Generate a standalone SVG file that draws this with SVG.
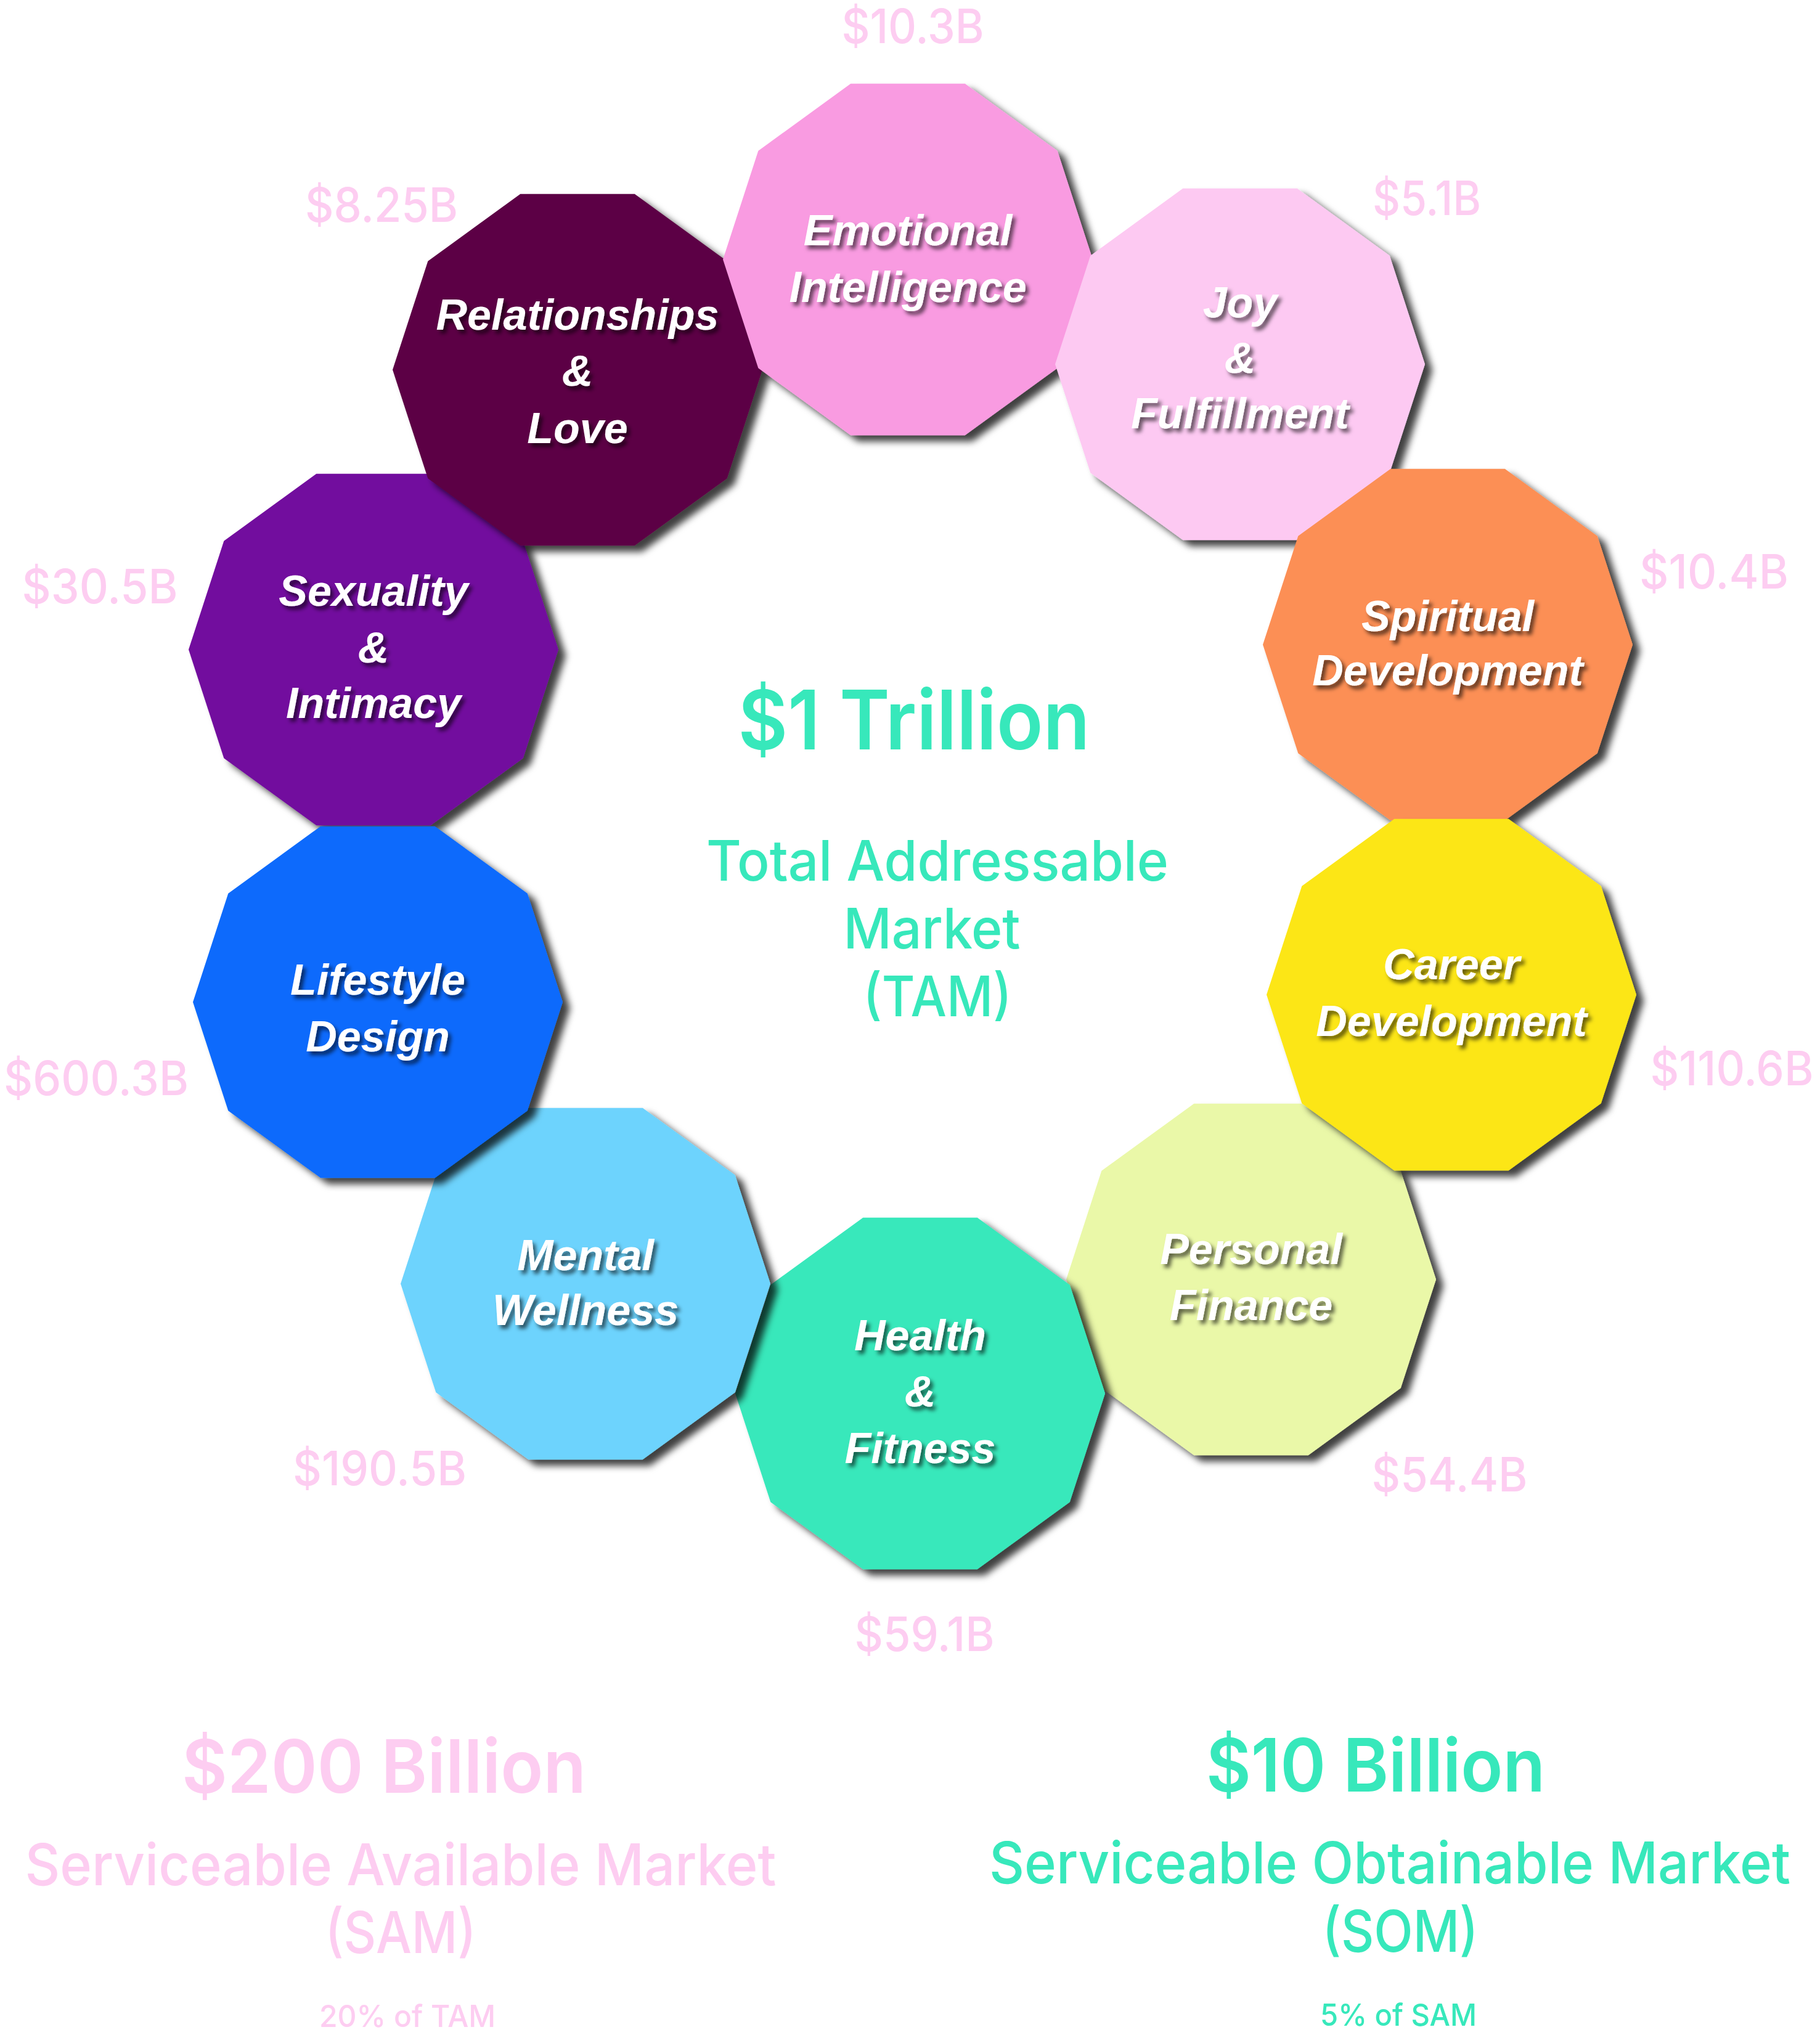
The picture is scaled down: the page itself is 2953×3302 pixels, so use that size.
<svg xmlns="http://www.w3.org/2000/svg" xmlns:xlink="http://www.w3.org/1999/xlink" width="2953" height="3302" viewBox="0 0 2953 3302">
<style>
.lbl{font-family:"Liberation Sans",Arial,sans-serif;font-weight:700;font-style:italic;font-size:70px;fill:#ffffff;text-anchor:middle;filter:url(#ts)}
.val{font-family:Inter,"Liberation Sans",sans-serif;font-weight:500;font-size:77px;fill:#FDCDF1;text-anchor:middle}
.big{font-family:Inter,"Liberation Sans",sans-serif;font-weight:600;text-anchor:middle}
.sub{font-family:Inter,"Liberation Sans",sans-serif;font-weight:500;text-anchor:middle}
.teal{fill:#37E8BB}
.pink{fill:#FDCDF1}
</style>
<defs>
<filter id="ds" x="-15%" y="-15%" width="135%" height="135%">
<feDropShadow dx="12" dy="10" stdDeviation="6" flood-color="#000000" flood-opacity="0.75"/>
</filter>
<filter id="ts" x="-10%" y="-20%" width="125%" height="150%">
<feDropShadow dx="5" dy="6" stdDeviation="3" flood-color="#000000" flood-opacity="0.6"/>
</filter>
<polygon id="dec" points="300,0 242.7,176.3 92.7,285.3 -92.7,285.3 -242.7,176.3 -300,0 -242.7,-176.3 -92.7,-285.3 92.7,-285.3 242.7,-176.3"/>
</defs>
<rect width="2953" height="3302" fill="#ffffff"/>

<g id="node-sexuality" transform="translate(606,1054)">
<use xlink:href="#dec" fill="#720B9E" filter="url(#ds)"/>
<text class="lbl"><tspan x="0" y="-71">Sexuality</tspan><tspan x="0" y="21">&amp;</tspan><tspan x="0" y="111">Intimacy</tspan></text>
</g>
<g id="node-relationships" transform="translate(937,600)">
<use xlink:href="#dec" fill="#5C0044" filter="url(#ds)"/>
<text class="lbl"><tspan x="0" y="-65">Relationships</tspan><tspan x="0" y="26">&amp;</tspan><tspan x="0" y="119">Love</tspan></text>
</g>
<g id="node-emotional" transform="translate(1473,421)">
<use xlink:href="#dec" fill="#F99BE1" filter="url(#ds)"/>
<text class="lbl"><tspan x="0" y="-23">Emotional</tspan><tspan x="0" y="69">Intelligence</tspan></text>
</g>
<g id="node-joy" transform="translate(2012,591)">
<use xlink:href="#dec" fill="#FDC9F2" filter="url(#ds)"/>
<text class="lbl"><tspan x="0" y="-76">Joy</tspan><tspan x="0" y="14">&amp;</tspan><tspan x="0" y="104">Fulfillment</tspan></text>
</g>
<g id="node-spiritual" transform="translate(2349,1046)">
<use xlink:href="#dec" fill="#FC8F55" filter="url(#ds)"/>
<text class="lbl"><tspan x="0" y="-22">Spiritual</tspan><tspan x="0" y="66">Development</tspan></text>
</g>
<g id="node-finance" transform="translate(2030,2076)">
<use xlink:href="#dec" fill="#EAF8A8" filter="url(#ds)"/>
<text class="lbl"><tspan x="0" y="-25">Personal</tspan><tspan x="0" y="66">Finance</tspan></text>
</g>
<g id="node-career" transform="translate(2355,1614)">
<use xlink:href="#dec" fill="#FCE618" filter="url(#ds)"/>
<text class="lbl"><tspan x="0" y="-25">Career</tspan><tspan x="0" y="67">Development</tspan></text>
</g>
<g id="node-health" transform="translate(1493,2261)">
<use xlink:href="#dec" fill="#37E8BB" filter="url(#ds)"/>
<text class="lbl"><tspan x="0" y="-70">Health</tspan><tspan x="0" y="21">&amp;</tspan><tspan x="0" y="113">Fitness</tspan></text>
</g>
<g id="node-mental" transform="translate(950,2083)">
<use xlink:href="#dec" fill="#6DD3FD" filter="url(#ds)"/>
<text class="lbl"><tspan x="0" y="-22">Mental</tspan><tspan x="0" y="67">Wellness</tspan></text>
</g>
<g id="node-lifestyle" transform="translate(613,1626)">
<use xlink:href="#dec" fill="#0A6BFC" filter="url(#ds)"/>
<text class="lbl"><tspan x="0" y="-12">Lifestyle</tspan><tspan x="0" y="80">Design</tspan></text>
</g>

<g id="values">
<text class="val" x="1481" y="70" textLength="231" lengthAdjust="spacingAndGlyphs">$10.3B</text>
<text class="val" x="2315" y="349" textLength="176" lengthAdjust="spacingAndGlyphs">$5.1B</text>
<text class="val" x="619" y="360" textLength="248" lengthAdjust="spacingAndGlyphs">$8.25B</text>
<text class="val" x="2781" y="955" textLength="242" lengthAdjust="spacingAndGlyphs">$10.4B</text>
<text class="val" x="162" y="979" textLength="253" lengthAdjust="spacingAndGlyphs">$30.5B</text>
<text class="val" x="156" y="1777" textLength="300" lengthAdjust="spacingAndGlyphs">$600.3B</text>
<text class="val" x="2810" y="1761" textLength="265" lengthAdjust="spacingAndGlyphs">$110.6B</text>
<text class="val" x="2352" y="2420" textLength="253" lengthAdjust="spacingAndGlyphs">$54.4B</text>
<text class="val" x="616" y="2410" textLength="282" lengthAdjust="spacingAndGlyphs">$190.5B</text>
<text class="val" x="1500" y="2679" textLength="227" lengthAdjust="spacingAndGlyphs">$59.1B</text>
</g>

<g id="tam">
<text class="big teal" x="1483" y="1216" font-size="133" textLength="571" lengthAdjust="spacingAndGlyphs">$1 Trillion</text>
<text class="sub teal" x="1521" y="1429" font-size="91" textLength="750" lengthAdjust="spacingAndGlyphs">Total Addressable</text>
<text class="sub teal" x="1512" y="1539" font-size="91" textLength="287" lengthAdjust="spacingAndGlyphs">Market</text>
<text class="sub teal" x="1521" y="1649" font-size="91" textLength="241" lengthAdjust="spacingAndGlyphs">(TAM)</text>
</g>

<g id="sam">
<text class="big pink" x="623" y="2909" font-size="120" textLength="656" lengthAdjust="spacingAndGlyphs">$200 Billion</text>
<text class="sub pink" x="650" y="3059" font-size="94" textLength="1219" lengthAdjust="spacingAndGlyphs">Serviceable Available Market</text>
<text class="sub pink" x="650" y="3169" font-size="94" textLength="245" lengthAdjust="spacingAndGlyphs">(SAM)</text>
<text class="sub pink" x="661" y="3289" font-size="50" textLength="286" lengthAdjust="spacingAndGlyphs">20% of TAM</text>
</g>

<g id="som">
<text class="big teal" x="2232" y="2907" font-size="119" textLength="550" lengthAdjust="spacingAndGlyphs">$10 Billion</text>
<text class="sub teal" x="2255" y="3056" font-size="94" textLength="1300" lengthAdjust="spacingAndGlyphs">Serviceable Obtainable Market</text>
<text class="sub teal" x="2272" y="3167" font-size="94" textLength="253" lengthAdjust="spacingAndGlyphs">(SOM)</text>
<text class="sub teal" x="2269" y="3287" font-size="50" textLength="254" lengthAdjust="spacingAndGlyphs">5% of SAM</text>
</g>
</svg>
